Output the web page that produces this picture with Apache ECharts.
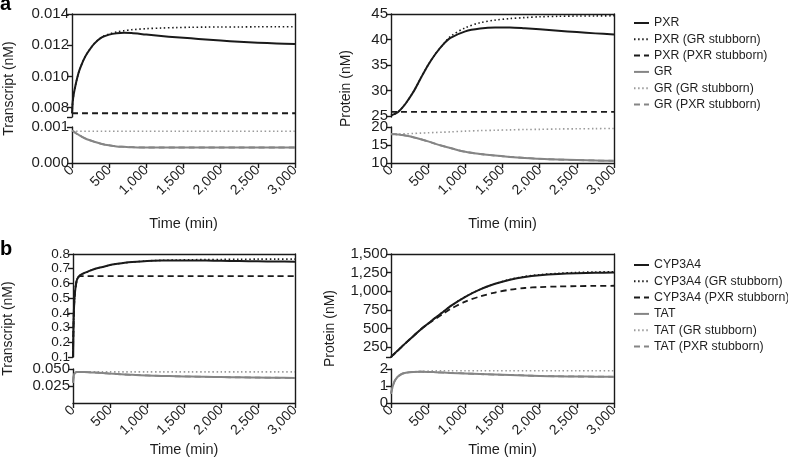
<!DOCTYPE html>
<html>
<head>
<meta charset="utf-8">
<script src="https://cdn.jsdelivr.net/npm/echarts@6/dist/echarts.min.js"></script>
<style>
html,body{margin:0;padding:0;background:#fff;}
#chart{width:788px;height:470px;}
</style>
</head>
<body>
<div id="chart"></div>
<script>
// ---------- DATA ----------
const times = [0, 10, 25, 50, 75, 100, 150, 200, 300, 400, 500, 600, 700, 800, 1000, 1200, 1400, 1600, 1800, 2000, 2250, 2500, 2750, 3000];

const xTicks = [0, 500, 1000, 1500, 2000, 2500, 3000];
const xTickLabels = ['0', '500', '1,000', '1,500', '2,000', '2,500', '3,000'];

// Panel a, transcript (nM)
const pxrTx      = [0.00764, 0.0084, 0.0089, 0.0095, 0.0100, 0.0104, 0.0110, 0.01145, 0.0121, 0.0125, 0.01268, 0.01277, 0.0128, 0.01278, 0.01268, 0.01259, 0.01251, 0.01244, 0.01237, 0.0123, 0.01222, 0.01216, 0.01211, 0.01207];
const pxrTxGR    = [0.00764, 0.0084, 0.0089, 0.0095, 0.0100, 0.0104, 0.0110, 0.01145, 0.0121, 0.01252, 0.01272, 0.01285, 0.01293, 0.01299, 0.01306, 0.0131, 0.01313, 0.01315, 0.01316, 0.01317, 0.01317, 0.01318, 0.01318, 0.01318];
const pxrTxPXR   = [0.00764, 0.00764, 0.00764, 0.00764, 0.00764, 0.00764, 0.00764, 0.00764, 0.00764, 0.00764, 0.00764, 0.00764, 0.00764, 0.00764, 0.00764, 0.00764, 0.00764, 0.00764, 0.00764, 0.00764, 0.00764, 0.00764, 0.00764, 0.00764];
const grTx       = [0.0009, 0.00089, 0.00087, 0.00083, 0.0008, 0.00077, 0.00071, 0.00066, 0.00059, 0.00053, 0.00049, 0.00046, 0.00045, 0.00044, 0.00043, 0.00043, 0.00043, 0.00043, 0.00043, 0.00043, 0.00043, 0.00043, 0.00043, 0.00043];
const grTxGR     = [0.00088, 0.00088, 0.00088, 0.00088, 0.00088, 0.00088, 0.00088, 0.00088, 0.00088, 0.00088, 0.00088, 0.00088, 0.00088, 0.00088, 0.00088, 0.00088, 0.00088, 0.00088, 0.00088, 0.00088, 0.00088, 0.00088, 0.00088, 0.00088];
const grTxPXR    = [0.0009, 0.00089, 0.00087, 0.00083, 0.0008, 0.00077, 0.00071, 0.00066, 0.00059, 0.00053, 0.00049, 0.00046, 0.00045, 0.00044, 0.00043, 0.00043, 0.00043, 0.00043, 0.00043, 0.00043, 0.00043, 0.00043, 0.00043, 0.00043];

// Panel a, protein (nM)
const pxrPr      = [25.1, 25.15, 25.25, 25.4, 25.6, 25.85, 26.6, 27.5, 29.7, 32.4, 35.0, 37.2, 39.0, 40.3, 41.6, 42.15, 42.35, 42.35, 42.2, 42.0, 41.7, 41.45, 41.2, 41.0];
const pxrPrGR    = [25.1, 25.15, 25.25, 25.4, 25.6, 25.85, 26.6, 27.5, 29.7, 32.4, 35.0, 37.2, 39.0, 40.6, 42.3, 43.3, 43.8, 44.1, 44.3, 44.45, 44.55, 44.6, 44.62, 44.65];
const pxrPrPXR   = [25.8, 25.8, 25.8, 25.8, 25.8, 25.8, 25.8, 25.8, 25.8, 25.8, 25.8, 25.8, 25.8, 25.8, 25.8, 25.8, 25.8, 25.8, 25.8, 25.8, 25.8, 25.8, 25.8, 25.8];
const grPr       = [18.0, 18.0, 18.0, 18.0, 17.95, 17.9, 17.8, 17.6, 17.15, 16.6, 16.0, 15.3, 14.7, 14.15, 13.1, 12.5, 12.05, 11.7, 11.4, 11.15, 10.95, 10.8, 10.7, 10.6];
const grPrGR     = [18.0, 18.0, 18.0, 18.0, 18.02, 18.05, 18.08, 18.1, 18.2, 18.3, 18.4, 18.48, 18.55, 18.65, 18.85, 19.0, 19.1, 19.2, 19.3, 19.35, 19.45, 19.5, 19.55, 19.6];
const grPrPXR    = [18.0, 18.0, 18.0, 18.0, 17.95, 17.9, 17.8, 17.6, 17.15, 16.6, 16.0, 15.3, 14.7, 14.15, 13.1, 12.5, 12.05, 11.7, 11.4, 11.15, 10.95, 10.8, 10.7, 10.6];

// Panel b, transcript (nM)
const cypTx      = [0.1, 0.38, 0.53, 0.62, 0.645, 0.657, 0.67, 0.68, 0.7, 0.712, 0.725, 0.733, 0.74, 0.745, 0.752, 0.755, 0.756, 0.756, 0.755, 0.754, 0.752, 0.75, 0.749, 0.748];
const cypTxGR    = [0.1, 0.38, 0.53, 0.62, 0.645, 0.657, 0.67, 0.68, 0.7, 0.712, 0.725, 0.733, 0.74, 0.745, 0.753, 0.757, 0.759, 0.761, 0.762, 0.763, 0.764, 0.765, 0.765, 0.765];
const cypTxPXR   = [0.1, 0.38, 0.53, 0.62, 0.645, 0.65, 0.65, 0.65, 0.65, 0.65, 0.65, 0.65, 0.65, 0.65, 0.65, 0.65, 0.65, 0.65, 0.65, 0.65, 0.65, 0.65, 0.65, 0.65];
const tatTx      = [0.03, 0.04, 0.044, 0.0455, 0.0456, 0.0456, 0.0455, 0.0453, 0.0447, 0.044, 0.0432, 0.0425, 0.0419, 0.0414, 0.0405, 0.0398, 0.0393, 0.0389, 0.0385, 0.0381, 0.0377, 0.0374, 0.0371, 0.0369];
const tatTxGR    = [0.03, 0.04, 0.044, 0.0455, 0.0457, 0.0458, 0.0458, 0.0458, 0.0458, 0.0458, 0.0458, 0.0458, 0.0458, 0.0458, 0.0458, 0.0458, 0.0458, 0.0458, 0.0458, 0.0458, 0.0458, 0.0458, 0.0458, 0.0458];
const tatTxPXR   = [0.03, 0.04, 0.044, 0.0455, 0.0456, 0.0456, 0.0455, 0.0453, 0.0447, 0.044, 0.0432, 0.0425, 0.0419, 0.0414, 0.0405, 0.0398, 0.0393, 0.0389, 0.0385, 0.0381, 0.0377, 0.0374, 0.0371, 0.0369];

// Panel b, protein (nM)
const cypPr      = [115, 125, 140, 163, 187, 210, 258, 305, 395, 485, 565, 645, 720, 800, 925, 1025, 1100, 1155, 1192, 1215, 1232, 1242, 1247, 1250];
const cypPrGR    = [115, 125, 140, 163, 187, 210, 258, 305, 395, 485, 565, 645, 720, 800, 925, 1025, 1100, 1158, 1198, 1222, 1240, 1252, 1258, 1262];
const cypPrPXR   = [115, 125, 140, 163, 187, 210, 258, 305, 395, 487, 562, 630, 695, 760, 860, 930, 982, 1020, 1043, 1055, 1063, 1068, 1071, 1073];
const tatPr      = [0.55, 0.75, 1.0, 1.3, 1.47, 1.58, 1.72, 1.78, 1.83, 1.84, 1.83, 1.81, 1.79, 1.77, 1.74, 1.7, 1.67, 1.65, 1.62, 1.59, 1.57, 1.56, 1.55, 1.54];
const tatPrGR    = [0.55, 0.75, 1.0, 1.3, 1.47, 1.58, 1.72, 1.78, 1.83, 1.86, 1.88, 1.89, 1.9, 1.9, 1.9, 1.9, 1.9, 1.9, 1.9, 1.9, 1.9, 1.9, 1.9, 1.9];
const tatPrPXR   = [0.55, 0.75, 1.0, 1.3, 1.47, 1.58, 1.72, 1.78, 1.83, 1.84, 1.83, 1.81, 1.79, 1.77, 1.74, 1.7, 1.67, 1.65, 1.62, 1.59, 1.57, 1.56, 1.55, 1.54];

// Y tick values and labels
const aTxUpTicks = [0.008, 0.010, 0.012, 0.014];
const aTxUpLabels = ['0.008', '0.010', '0.012', '0.014'];
const aTxLoTicks = [0, 0.001];
const aTxLoLabels = ['0.000', '0.001'];
const aPrUpTicks = [25, 30, 35, 40, 45];
const aPrUpLabels = ['25', '30', '35', '40', '45'];
const aPrLoTicks = [10, 15, 20];
const aPrLoLabels = ['10', '15', '20'];
const bTxUpTicks = [0.1, 0.2, 0.3, 0.4, 0.5, 0.6, 0.7, 0.8];
const bTxUpLabels = ['0.1', '0.2', '0.3', '0.4', '0.5', '0.6', '0.7', '0.8'];
const bTxLoTicks = [0.025, 0.05];
const bTxLoLabels = ['0.025', '0.050'];
const bPrUpTicks = [250, 500, 750, 1000, 1250, 1500];
const bPrUpLabels = ['250', '500', '750', '1,000', '1,250', '1,500'];
const bPrLoTicks = [0, 1, 2];
const bPrLoLabels = ['0', '1', '2'];

const legendA = ['PXR', 'PXR (GR stubborn)', 'PXR (PXR stubborn)', 'GR', 'GR (GR stubborn)', 'GR (PXR stubborn)'];
const legendB = ['CYP3A4', 'CYP3A4 (GR stubborn)', 'CYP3A4 (PXR stubborn)', 'TAT', 'TAT (GR stubborn)', 'TAT (PXR stubborn)'];

// ---------- STYLE ----------
const FONT = 'Liberation Sans, Arial, Helvetica, sans-serif';
const TXT = '#1e1e1e';
const AX = '#1a1a1a';
const BLACK = '#1a1a1a', GRAY = '#858585', GRAYDOT = '#9a9a9a';
const styles = {
  bs: {color: BLACK, width: 2, type: 'solid', z: 4},
  bd: {color: BLACK, width: 1.6, type: [1.5, 2.6], z: 3},
  bk: {color: BLACK, width: 1.8, type: [6, 4], z: 3},
  gs: {color: GRAY, width: 2, type: 'solid', z: 2},
  gd: {color: GRAYDOT, width: 1.6, type: [1.5, 2.6], z: 2},
  gk: {color: GRAY, width: 1.8, type: [6, 4], z: 1}
};

const grids = [], xAxes = [], yAxes = [], series = [];

function fmtFromArrays(ticks, labels) {
  return function (v) {
    for (let i = 0; i < ticks.length; i++) {
      if (Math.abs(ticks[i] - v) < 1e-9) return labels[i];
    }
    return '';
  };
}

function addPanel(p) {
  const gUp = grids.length;
  grids.push({left: p.left, width: p.width, top: p.upTop, height: p.upH});
  const gLo = grids.length;
  grids.push({left: p.left, width: p.width, top: p.loTop, height: p.loH});
  const gFr = grids.length;
  grids.push({left: p.left, width: p.width, top: p.upTop, height: p.loTop + p.loH - p.upTop});

  const lineStyle = {color: AX, width: 1.4};
  const xUp = xAxes.length;
  xAxes.push({gridIndex: gUp, type: 'value', min: 0, max: 3000, show: false});
  const xLo = xAxes.length;
  xAxes.push({
    gridIndex: gLo, type: 'value', min: 0, max: 3000, interval: 500,
    axisLine: {show: true, onZero: false, lineStyle},
    axisTick: {show: true, length: 5, lineStyle},
    splitLine: {show: false},
    axisLabel: {rotate: 45, fontSize: 14, fontFamily: FONT, color: TXT, margin: 5,
      showMinLabel: true, showMaxLabel: true, hideOverlap: false,
      formatter: fmtFromArrays(xTicks, xTickLabels)},
    name: 'Time (min)', nameLocation: 'middle', nameGap: p.xNameGap,
    nameTextStyle: {fontSize: 14.5, fontFamily: FONT, color: TXT}
  });
  xAxes.push({gridIndex: gFr, type: 'value', min: 0, max: 1, position: 'top',
    axisLine: {show: true, onZero: false, lineStyle}, axisTick: {show: false},
    axisLabel: {show: false}, splitLine: {show: false}});

  const yLabel = function (ticks, labels, size) {
    return {fontSize: size, lineHeight: size - 1, fontFamily: FONT, color: TXT, margin: 3,
      hideOverlap: false,
      customValues: ticks, formatter: fmtFromArrays(ticks, labels)};
  };
  const yUp = yAxes.length;
  yAxes.push({
    gridIndex: gUp, type: 'value', min: p.upMin, max: p.upMax,
    axisLine: {show: true, onZero: false, lineStyle},
    axisTick: {show: true, length: 5, lineStyle, customValues: p.upTickMarks},
    axisLabel: yLabel(p.upTicks, p.upLabels, p.upFont || 15),
    splitLine: {show: false}
  });
  const yLo = yAxes.length;
  yAxes.push({
    gridIndex: gLo, type: 'value', min: p.loMin, max: p.loMax,
    axisLine: {show: true, onZero: false, lineStyle},
    axisTick: {show: true, length: 5, lineStyle, customValues: p.loTickMarks},
    axisLabel: yLabel(p.loTicks, p.loLabels, 15),
    splitLine: {show: false}
  });
  yAxes.push({gridIndex: gFr, type: 'value', min: 0, max: 1, position: 'right',
    axisLine: {show: true, onZero: false, lineStyle}, axisTick: {show: false},
    axisLabel: {show: false}, splitLine: {show: false}});
  yAxes.push({gridIndex: gFr, type: 'value', min: 0, max: 1, position: 'left',
    axisLine: {show: false}, axisTick: {show: false},
    axisLabel: {show: false}, splitLine: {show: false},
    name: p.yName, nameLocation: 'middle', nameGap: p.yNameGap,
    nameTextStyle: {fontSize: 14, fontFamily: FONT, color: TXT}});

  p.series.forEach(function (s) {
    const st = styles[s.style];
    series.push({
      type: 'line', name: s.name,
      xAxisIndex: s.up ? xUp : xLo, yAxisIndex: s.up ? yUp : yLo,
      data: times.map(function (t, i) { return [t, s.values[i]]; }),
      symbol: 'none', showSymbol: false,
      smooth: 0.3,
      color: st.color,
      lineStyle: {color: st.color, width: st.width, type: st.type, cap: 'butt', join: 'round'},
      itemStyle: {color: st.color},
      z: st.z, clip: true, animation: false, silent: true
    });
  });
}

addPanel({
  left: 72, width: 223, upTop: 14, upH: 103, loTop: 127, loH: 36,
  upMin: 0.0074, upMax: 0.014, upTicks: aTxUpTicks, upLabels: aTxUpLabels,
  upTickMarks: [0.0074].concat(aTxUpTicks),
  loMin: 0, loMax: 0.001, loTicks: aTxLoTicks, loLabels: aTxLoLabels, loTickMarks: aTxLoTicks,
  yName: 'Transcript (nM)', yNameGap: 56, xNameGap: 53,
  series: [
    {name: 'PXR (GR stubborn)', up: true, values: pxrTxGR, style: 'bd'},
    {name: 'PXR (PXR stubborn)', up: true, values: pxrTxPXR, style: 'bk'},
    {name: 'PXR', up: true, values: pxrTx, style: 'bs'},
    {name: 'GR (PXR stubborn)', up: false, values: grTxPXR, style: 'gk'},
    {name: 'GR (GR stubborn)', up: false, values: grTxGR, style: 'gd'},
    {name: 'GR', up: false, values: grTx, style: 'gs'}
  ]
});
addPanel({
  left: 391, width: 223, upTop: 14, upH: 103, loTop: 127, loH: 36,
  upMin: 24.8, upMax: 45, upTicks: aPrUpTicks, upLabels: aPrUpLabels,
  upTickMarks: aPrUpTicks,
  loMin: 10, loMax: 20, loTicks: aPrLoTicks, loLabels: aPrLoLabels, loTickMarks: aPrLoTicks,
  yName: 'Protein (nM)', yNameGap: 38, xNameGap: 53,
  series: [
    {name: 'PXR (GR stubborn)', up: true, values: pxrPrGR, style: 'bd'},
    {name: 'PXR (PXR stubborn)', up: true, values: pxrPrPXR, style: 'bk'},
    {name: 'PXR', up: true, values: pxrPr, style: 'bs'},
    {name: 'GR (PXR stubborn)', up: false, values: grPrPXR, style: 'gk'},
    {name: 'GR (GR stubborn)', up: false, values: grPrGR, style: 'gd'},
    {name: 'GR', up: false, values: grPr, style: 'gs'}
  ]
});
addPanel({
  left: 73, width: 222, upTop: 254, upH: 103, loTop: 369, loH: 34,
  upMin: 0.1, upMax: 0.8, upTicks: bTxUpTicks, upLabels: bTxUpLabels,
  upTickMarks: bTxUpTicks, upFont: 13.5,
  loMin: 0, loMax: 0.05, loTicks: bTxLoTicks, loLabels: bTxLoLabels, loTickMarks: bTxLoTicks,
  yName: 'Transcript (nM)', yNameGap: 59, xNameGap: 39,
  series: [
    {name: 'CYP3A4 (GR stubborn)', up: true, values: cypTxGR, style: 'bd'},
    {name: 'CYP3A4 (PXR stubborn)', up: true, values: cypTxPXR, style: 'bk'},
    {name: 'CYP3A4', up: true, values: cypTx, style: 'bs'},
    {name: 'TAT (PXR stubborn)', up: false, values: tatTxPXR, style: 'gk'},
    {name: 'TAT (GR stubborn)', up: false, values: tatTxGR, style: 'gd'},
    {name: 'TAT', up: false, values: tatTx, style: 'gs'}
  ]
});
addPanel({
  left: 391, width: 223, upTop: 254, upH: 103, loTop: 369, loH: 34,
  upMin: 115, upMax: 1500, upTicks: bPrUpTicks, upLabels: bPrUpLabels,
  upTickMarks: [115].concat(bPrUpTicks),
  loMin: 0, loMax: 2, loTicks: bPrLoTicks, loLabels: bPrLoLabels, loTickMarks: bPrLoTicks,
  yName: 'Protein (nM)', yNameGap: 54, xNameGap: 39,
  series: [
    {name: 'CYP3A4 (GR stubborn)', up: true, values: cypPrGR, style: 'bd'},
    {name: 'CYP3A4 (PXR stubborn)', up: true, values: cypPrPXR, style: 'bk'},
    {name: 'CYP3A4', up: true, values: cypPr, style: 'bs'},
    {name: 'TAT (PXR stubborn)', up: false, values: tatPrPXR, style: 'gk'},
    {name: 'TAT (GR stubborn)', up: false, values: tatPrGR, style: 'gd'},
    {name: 'TAT', up: false, values: tatPr, style: 'gs'}
  ]
});

const legendCommon = {
  orient: 'vertical', itemWidth: 15, itemHeight: 10, itemGap: 4.3,
  selectedMode: false,
  itemStyle: {opacity: 0, borderWidth: 0},
  textStyle: {fontSize: 12.3, fontFamily: FONT, color: TXT, padding: [0, 0, 0, 0]},
  padding: 0
};

const option = {
  backgroundColor: '#ffffff',
  animation: false,
  title: [
    {text: 'a', left: 0, top: -6, padding: 0, textStyle: {fontSize: 20, fontWeight: 'bold', fontFamily: FONT, color: '#000'}},
    {text: 'b', left: 0, top: 239, padding: 0, textStyle: {fontSize: 20, fontWeight: 'bold', fontFamily: FONT, color: '#000'}}
  ],
  legend: [
    Object.assign({}, legendCommon, {data: legendA, left: 633, top: 17}),
    Object.assign({}, legendCommon, {data: legendB, left: 633, top: 259})
  ],
  grid: grids,
  xAxis: xAxes,
  yAxis: yAxes,
  series: series
};

const chart = echarts.init(document.getElementById('chart'), null, {renderer: 'canvas'});
chart.setOption(option);
</script>
</body>
</html>
